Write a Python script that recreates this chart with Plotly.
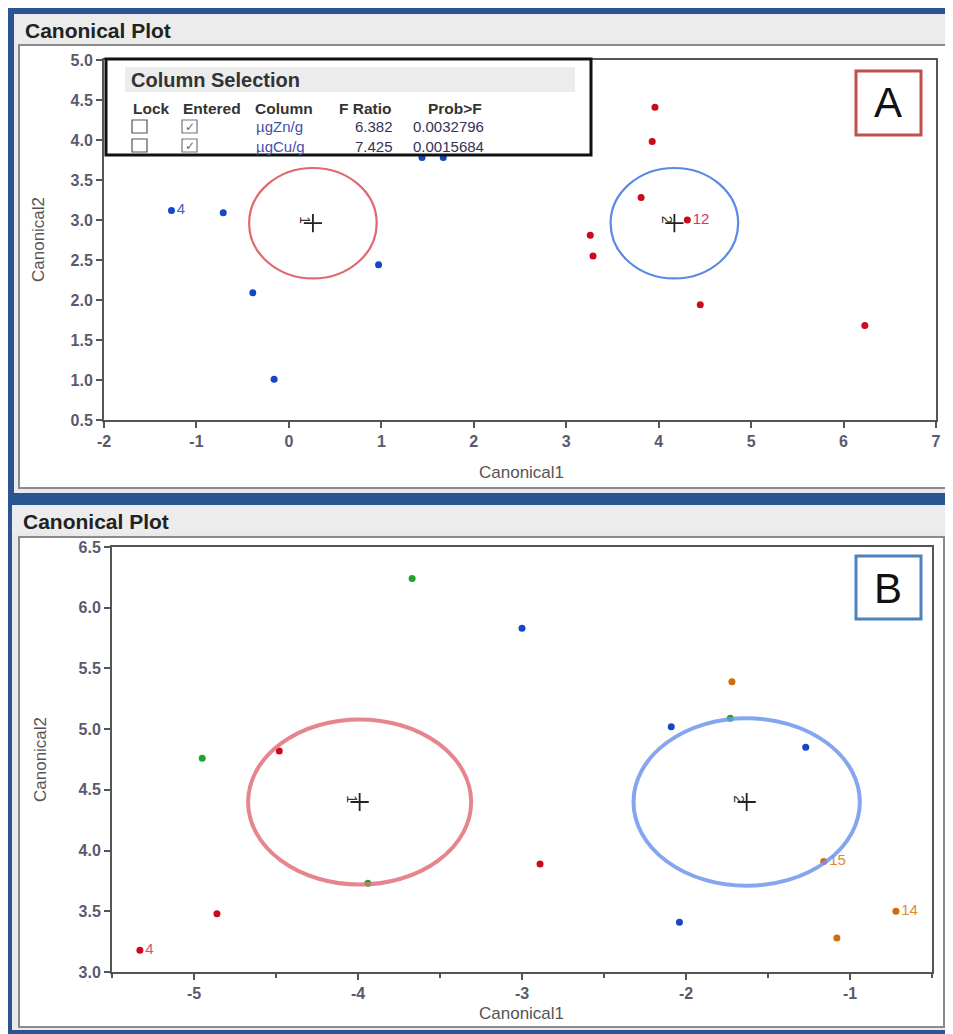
import plotly.graph_objects as go

# page is offset by the 8px body margin; figure sized so page coords map 1:1
OFF = 8
W, H = 953 - OFF, 1034 - OFF

# ---------------- data ----------------
# Panel A
a_g1_x = [-1.27, -0.71, -0.39, -0.16, 0.97, 1.44, 1.67]
a_g1_y = [3.12, 3.09, 2.09, 1.01, 2.44, 3.78, 3.78]
a_g1_lab = ["4", "", "", "", "", "", ""]
a_g2_x = [3.96, 3.93, 3.81, 3.26, 3.29, 4.31, 4.45, 6.23]
a_g2_y = [4.41, 3.98, 3.28, 2.81, 2.55, 3.00, 1.94, 1.68]
a_g2_lab = ["", "", "", "", "", "12", "", ""]
a_cent_x = [0.26, 4.17]
a_cent_y = [2.96, 2.96]
a_cent_r = [0.69, 0.69]
a_cent_lab = ["1", "2"]
a_xticks = [-2, -1, 0, 1, 2, 3, 4, 5, 6, 7]
a_xticktext = ["-2", "-1", "0", "1", "2", "3", "4", "5", "6", "7"]
a_yticks = [0.5, 1.0, 1.5, 2.0, 2.5, 3.0, 3.5, 4.0, 4.5, 5.0]

# Panel B
b_red_x = [-4.48, -4.86, -5.33, -2.89]
b_red_y = [4.82, 3.48, 3.18, 3.89]
b_red_lab = ["", "", "4", ""]
b_green_x = [-3.67, -4.95, -3.94, -1.73]
b_green_y = [6.24, 4.76, 3.73, 5.09]
b_blue_x = [-3.00, -2.09, -1.27, -2.04]
b_blue_y = [5.83, 5.02, 4.85, 3.41]
b_orange_x = [-1.72, -1.16, -0.72, -1.08]
b_orange_y = [5.39, 3.91, 3.50, 3.28]
b_orange_lab = ["", "15", "14", ""]
b_cent_x = [-3.99, -1.63]
b_cent_y = [4.40, 4.40]
b_cent_r = [0.68, 0.69]
b_cent_lab = ["1", "2"]
b_xticks = [-5, -4, -3, -2, -1]
b_xticktext = ["-5", "-4", "-3", "-2", "-1"]
b_yticks = [3.0, 3.5, 4.0, 4.5, 5.0, 5.5, 6.0, 6.5]

# Column selection table
tbl_headers = ["Lock", "Entered", "Column", "F Ratio", "Prob>F"]
tbl_columns = ["µgZn/g", "µgCu/g"]
tbl_fratio = ["6.382", "7.425"]
tbl_prob = ["0.0032796", "0.0015684"]

# ---------------- helpers ----------------
def px(x):
    return (x - OFF) / W

def py(y):
    return 1 - (y - OFF) / H

C_BLUE = "#1446c8"
C_RED = "#cc0a1e"
C_GREEN = "#1fa52c"
C_ORANGE = "#d46a0c"
FONT = "Liberation Sans Narrow, Liberation Sans, Arial, sans-serif"
FONT_W = "Liberation Sans, Arial, sans-serif"

fig = go.Figure()

def pts(x, y, color, labels=None, xa="x", ya="y", lcolor=None):
    fig.add_trace(go.Scatter(
        x=x, y=y, xaxis=xa, yaxis=ya,
        mode="markers+text" if labels else "markers",
        text=labels, textposition="middle right",
        textfont=dict(family=FONT_W, size=15, color=lcolor or color),
        marker=dict(size=7, color=color),
        showlegend=False, hoverinfo="skip", cliponaxis=False))

pts(a_g1_x, a_g1_y, C_BLUE, a_g1_lab, lcolor="#3a62d0")
pts(a_g2_x, a_g2_y, C_RED, a_g2_lab, lcolor="#d8345a")
pts(b_red_x, b_red_y, C_RED, b_red_lab, "x2", "y2", lcolor="#e0506a")
pts(b_green_x, b_green_y, C_GREEN, None, "x2", "y2")
pts(b_blue_x, b_blue_y, C_BLUE, None, "x2", "y2")
pts(b_orange_x, b_orange_y, C_ORANGE, b_orange_lab, "x2", "y2", lcolor="#e08a30")

# centroid crosses
for cx, cy, xa, ya in [(a_cent_x, a_cent_y, "x", "y"), (b_cent_x, b_cent_y, "x2", "y2")]:
    fig.add_trace(go.Scatter(
        x=cx, y=cy, xaxis=xa, yaxis=ya, mode="markers",
        marker=dict(symbol="cross-thin", size=13, line=dict(width=1.8, color="#222")),
        showlegend=False, hoverinfo="skip"))

shapes = []
annotations = []

# ---------- frames (paper) ----------
def rect(x0, y0, x1, y1, fill=None, line=None, lw=0, layer="below"):
    shapes.append(dict(type="rect", xref="paper", yref="paper",
                       x0=px(x0), x1=px(x1), y0=py(y1), y1=py(y0),
                       fillcolor=fill or "rgba(0,0,0,0)",
                       line=dict(color=line or "rgba(0,0,0,0)", width=lw),
                       layer=layer))

rect(5, 6, 960, 1040, fill="#2b5592")
# top panel
rect(14, 14, 960, 493, fill="#e9e9e9")
rect(14, 14, 960, 42, fill="#ececec")
rect(19, 45, 948, 488, fill="white", line="#8a8a8a", lw=2)
# bottom panel
rect(12, 505, 960, 1030, fill="#e9e9e9")
rect(12, 505, 960, 533, fill="#ececec")
rect(19, 537, 944, 1027, fill="white", line="#8a8a8a", lw=2)

def txt(x, y, s, size=13, color="#222", bold=False, xanchor="left", family=FONT_W, angle=0):
    annotations.append(dict(xref="paper", yref="paper", x=px(x), y=py(y),
                            text=f"<b>{s}</b>" if bold else s, showarrow=False,
                            xanchor=xanchor, yanchor="middle", textangle=angle,
                            font=dict(size=size, color=color, family=family)))

txt(23, 31, "Canonical Plot", 21, "#222", True)
txt(21, 521, "Canonical Plot", 21, "#222", True)

# axis titles
txt(38, 240, "Canonical2", 17, "#555", False, "center", FONT, -90)
txt(521, 472, "Canonical1", 17, "#555", False, "center", FONT)
txt(40, 760, "Canonical2", 17, "#555", False, "center", FONT, -90)
txt(521, 1013, "Canonical1", 17, "#555", False, "center", FONT)

# Column Selection box
rect(106, 59, 591, 155, fill="white", line="#111", lw=3, layer="above")
rect(125, 67, 575, 92, fill="#ececec", layer="above")
txt(129, 80, "Column Selection", 20, "#333", True)
hx = [131, 181, 253, 394, 484]
hanchor = ["left", "left", "left", "right", "right"]
for h, x, anc in zip(tbl_headers, hx, hanchor):
    txt(x, 108, h, 15.5, "#333", True, anc)
for i, (col, fr, pr) in enumerate(zip(tbl_columns, tbl_fratio, tbl_prob)):
    yy = 127 + i * 19
    rect(132, yy - 7, 147, yy + 6, fill="white", line="#555", lw=1.2, layer="above")
    rect(182, yy - 7, 197, yy + 6, fill="white", line="#777", lw=1.2, layer="above")
    txt(189.5, yy, "✓", 12, "#666", False, "center", "DejaVu Sans")
    txt(254, yy, col, 15, "#4450a8")
    txt(395, yy, fr, 15, "#333355", False, "right")
    txt(486, yy, pr, 15, "#333355", False, "right")

# A / B boxes
rect(856, 71, 921, 135, fill="white", line="#c0504d", lw=3, layer="above")
txt(888, 103, "A", 42, "#111", False, "center")
rect(856, 556, 921, 619, fill="white", line="#4f81bd", lw=3, layer="above")
txt(888, 588, "B", 42, "#111", False, "center")

# ---------- circles (data coords) ----------
circ_style = [
    ("x", "y", a_cent_x, a_cent_y, a_cent_r, ["#e06870", "#5a8ae6"], 2.2),
    ("x2", "y2", b_cent_x, b_cent_y, b_cent_r, ["rgba(224,112,122,0.85)", "rgba(110,150,235,0.85)"], 4),
]
for xr, yr, cxs, cys, rs, cols, lw in circ_style:
    for cx, cy, r, col in zip(cxs, cys, rs, cols):
        shapes.append(dict(type="circle", xref=xr, yref=yr,
                           x0=cx - r, x1=cx + r, y0=cy - r, y1=cy + r,
                           line=dict(color=col, width=lw), layer="above"))

# centroid number labels (small, rotated)
for xr, yr, cxs, cys, labs in [("x", "y", a_cent_x, a_cent_y, a_cent_lab),
                               ("x2", "y2", b_cent_x, b_cent_y, b_cent_lab)]:
    for cx, cy, lab in zip(cxs, cys, labs):
        annotations.append(dict(xref=xr, yref=yr, x=cx, y=cy, text=lab,
                                showarrow=False, xshift=-8, yshift=3, textangle=90,
                                font=dict(size=14, color="#333", family=FONT_W)))

axis_common = dict(showgrid=False, zeroline=False, showline=True, mirror=True,
                   linecolor="#555", linewidth=2, ticks="outside", ticklen=6,
                   tickcolor="#555", tickwidth=1.5, automargin=False,
                   tickfont=dict(family=FONT, size=16, color="#5a5a6e", weight="bold"))

fig.update_layout(
    template="none",
    autosize=False,
    width=W, height=H, margin=dict(l=0, r=0, t=0, b=0, pad=0),
    paper_bgcolor="white", plot_bgcolor="white", showlegend=False,
    xaxis=dict(domain=[px(104), px(936)], range=[-2, 7],
               tickvals=a_xticks, ticktext=a_xticktext,
               anchor="y", **axis_common),
    yaxis=dict(domain=[py(420), py(60)], range=[0.5, 5.0],
               tickvals=a_yticks, tickformat=".1f", anchor="x", **axis_common),
    xaxis2=dict(domain=[px(112), px(932)], range=[-5.5, -0.5],
                tickvals=b_xticks, ticktext=b_xticktext,
                anchor="y2", minor=dict(dtick=0.5, tick0=-5.5, ticks="outside", ticklen=4,
                                        tickcolor="#555", tickwidth=1.5, showgrid=False),
                **axis_common),
    yaxis2=dict(domain=[py(972), py(547)], range=[3.0, 6.5],
                tickvals=b_yticks, tickformat=".1f", anchor="x2", **axis_common),
    shapes=shapes, annotations=annotations,
)

fig.write_html("out.html")
